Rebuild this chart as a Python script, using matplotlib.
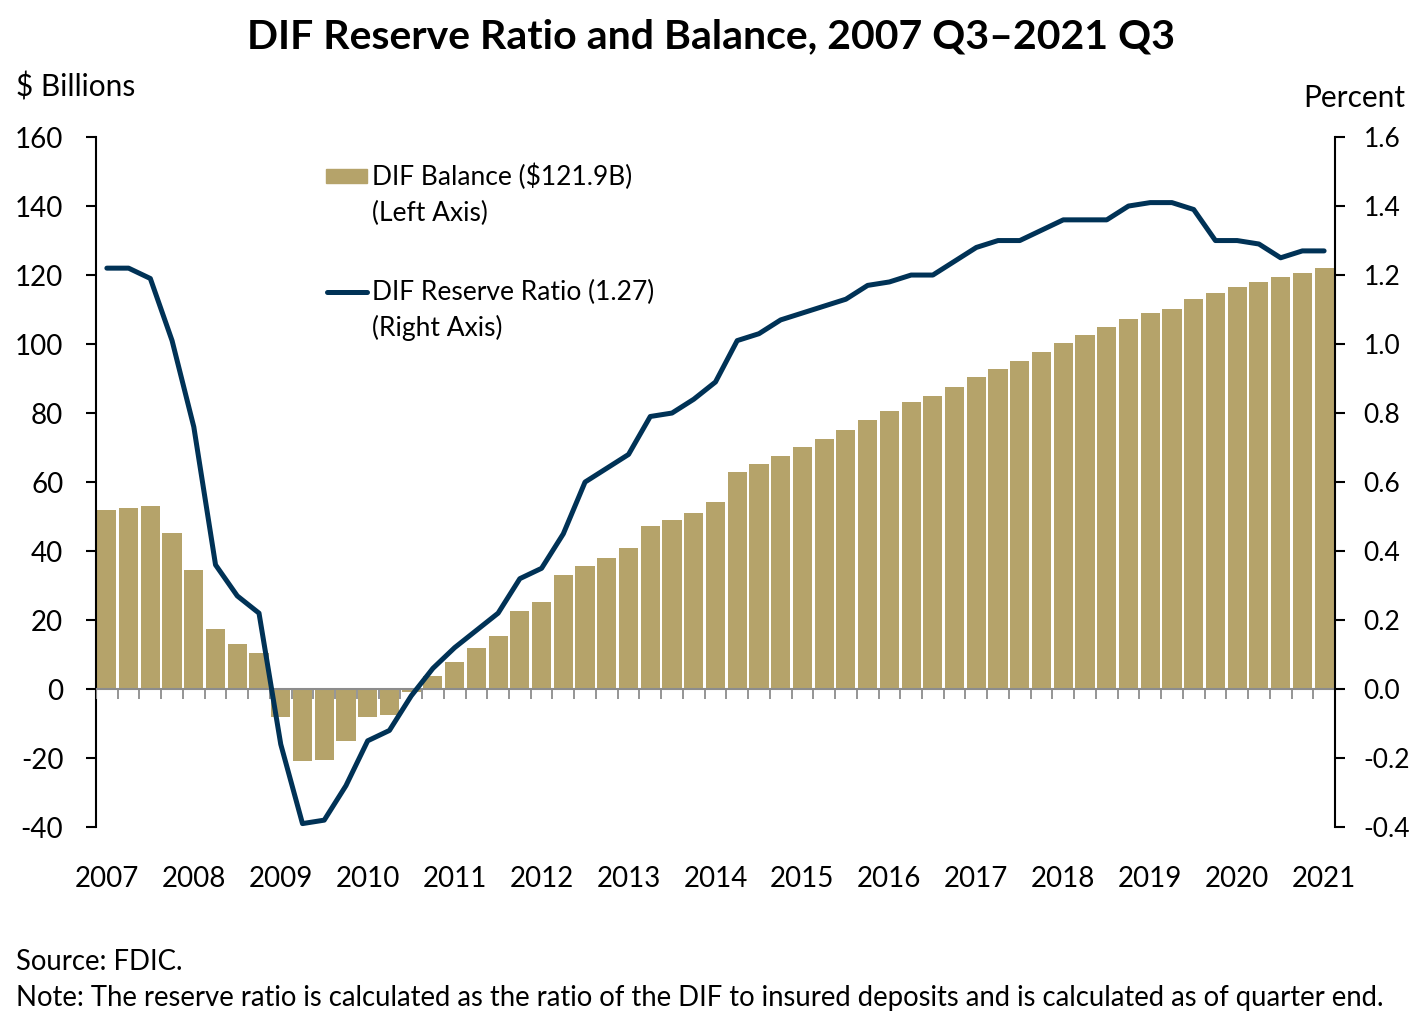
import numpy as np
import matplotlib
matplotlib.use("Agg")
import matplotlib.pyplot as plt
from matplotlib.patches import Rectangle
from matplotlib.lines import Line2D

plt.rcParams['font.family'] = ['Lato', 'DejaVu Sans']
plt.rcParams['axes.unicode_minus'] = False

# ----- data: 2007 Q3 .. 2021 Q3, quarterly -----
years = ['2007', '2008', '2009', '2010', '2011', '2012', '2013', '2014',
         '2015', '2016', '2017', '2018', '2019', '2020', '2021']

balance = [51.9, 52.4, 53.0, 45.2, 34.6, 17.3, 13.0, 10.4,
           -8.2, -20.9, -20.7, -15.2, -8.0, -7.4, -1.0, 3.9,
           7.8, 11.8, 15.3, 22.7, 25.2, 33.0, 35.7, 37.9,
           40.8, 47.2, 48.9, 51.1, 54.3, 62.8, 65.3, 67.6,
           70.1, 72.6, 75.1, 77.9, 80.7, 83.2, 84.9, 87.6,
           90.5, 92.7, 95.1, 97.6, 100.2, 102.6, 104.9, 107.4,
           108.9, 110.3, 113.2, 114.7, 116.4, 117.9, 119.4, 120.5,
           121.9]

ratio = [1.22, 1.22, 1.19, 1.01, 0.76, 0.36, 0.27, 0.22,
         -0.16, -0.39, -0.38, -0.28, -0.15, -0.12, -0.02, 0.06,
         0.12, 0.17, 0.22, 0.32, 0.35, 0.45, 0.60, 0.64,
         0.68, 0.79, 0.80, 0.84, 0.89, 1.01, 1.03, 1.07,
         1.09, 1.11, 1.13, 1.17, 1.18, 1.20, 1.20, 1.24,
         1.28, 1.30, 1.30, 1.33, 1.36, 1.36, 1.36, 1.40,
         1.41, 1.41, 1.39, 1.30, 1.30, 1.29, 1.25, 1.27,
         1.27]

bar_color = '#b5a36a'
line_color = '#003256'

x = np.arange(len(balance))

fig = plt.figure(figsize=(14.22, 10.32), dpi=100)
ax = fig.add_axes([0.0675, 0.1986, 0.8713, 0.6686])
ax2 = ax.twinx()

ax.bar(x, balance, width=0.88, color=bar_color, zorder=2)
ax.axhline(0, color='#8c8c8c', lw=1.5, zorder=3)
# small gray ticks below zero line at quarter boundaries
ax.vlines(np.arange(-0.5, len(balance), 1.0), -3.0, 0, color='#8c8c8c', lw=1.3, zorder=3)

ax.set_xlim(-0.5, len(balance) - 0.5)
ax.set_ylim(-40, 160)
ax.set_yticks(np.arange(-40, 161, 20))
ax2.set_ylim(-0.4, 1.6)
ax2.set_yticks(np.round(np.arange(-0.4, 1.61, 0.2), 1))
ax2.set_yticklabels([f"{v:.1f}" for v in np.arange(-0.4, 1.61, 0.2)])

ax2.plot(x, ratio, color=line_color, lw=3.6, solid_capstyle='round', zorder=4)

ax.set_xticks(x[::4])
ax.set_xticklabels(years)
ax.tick_params(axis='x', length=0, pad=28, labelsize=20)
ax.tick_params(axis='y', length=7.5, width=1.5, labelsize=20, pad=16)
ax2.tick_params(axis='y', length=7.5, width=1.5, labelsize=19, pad=13)

for a in (ax, ax2):
    a.spines['top'].set_visible(False)
    a.spines['bottom'].set_visible(False)
    a.spines['left'].set_linewidth(1.5)
    a.spines['right'].set_linewidth(1.5)
ax2.spines['left'].set_visible(False)
ax.spines['right'].set_visible(False)

# ----- titles / labels -----
fig.text(0.5, 0.964, 'DIF Reserve Ratio and Balance, 2007 Q3\u20132021 Q3',
         ha='center', va='center', fontsize=29.5, fontweight='bold')
fig.text(0.011, 0.916, '\\$ Billions', ha='left', va='center', fontsize=21.5)
fig.text(0.988, 0.905, 'Percent', ha='right', va='center', fontsize=21.5)
fig.text(0.011, 0.068, 'Source: FDIC.', ha='left', va='center', fontsize=19.8)
fig.text(0.011, 0.033, 'Note: The reserve ratio is calculated as the ratio of the DIF to insured '
         'deposits and is calculated as of quarter end.', ha='left', va='center', fontsize=19.8)

# ----- legend drawn by hand -----
fig.patches.append(Rectangle((0.2293, 0.8223), 0.0288, 0.0135, transform=fig.transFigure,
                             color=bar_color))
fig.text(0.2616, 0.829, 'DIF Balance (\\$121.9B)', ha='left', va='center', fontsize=19)
fig.text(0.2616, 0.793, '(Left Axis)', ha='left', va='center', fontsize=19)
fig.lines.append(Line2D([0.2300, 0.2581], [0.7171, 0.7171], transform=fig.transFigure,
                        color=line_color, lw=3.6, solid_capstyle='round'))
fig.text(0.2616, 0.717, 'DIF Reserve Ratio (1.27)', ha='left', va='center', fontsize=19)
fig.text(0.2616, 0.682, '(Right Axis)', ha='left', va='center', fontsize=19)

fig.savefig('out.png', dpi=100)
